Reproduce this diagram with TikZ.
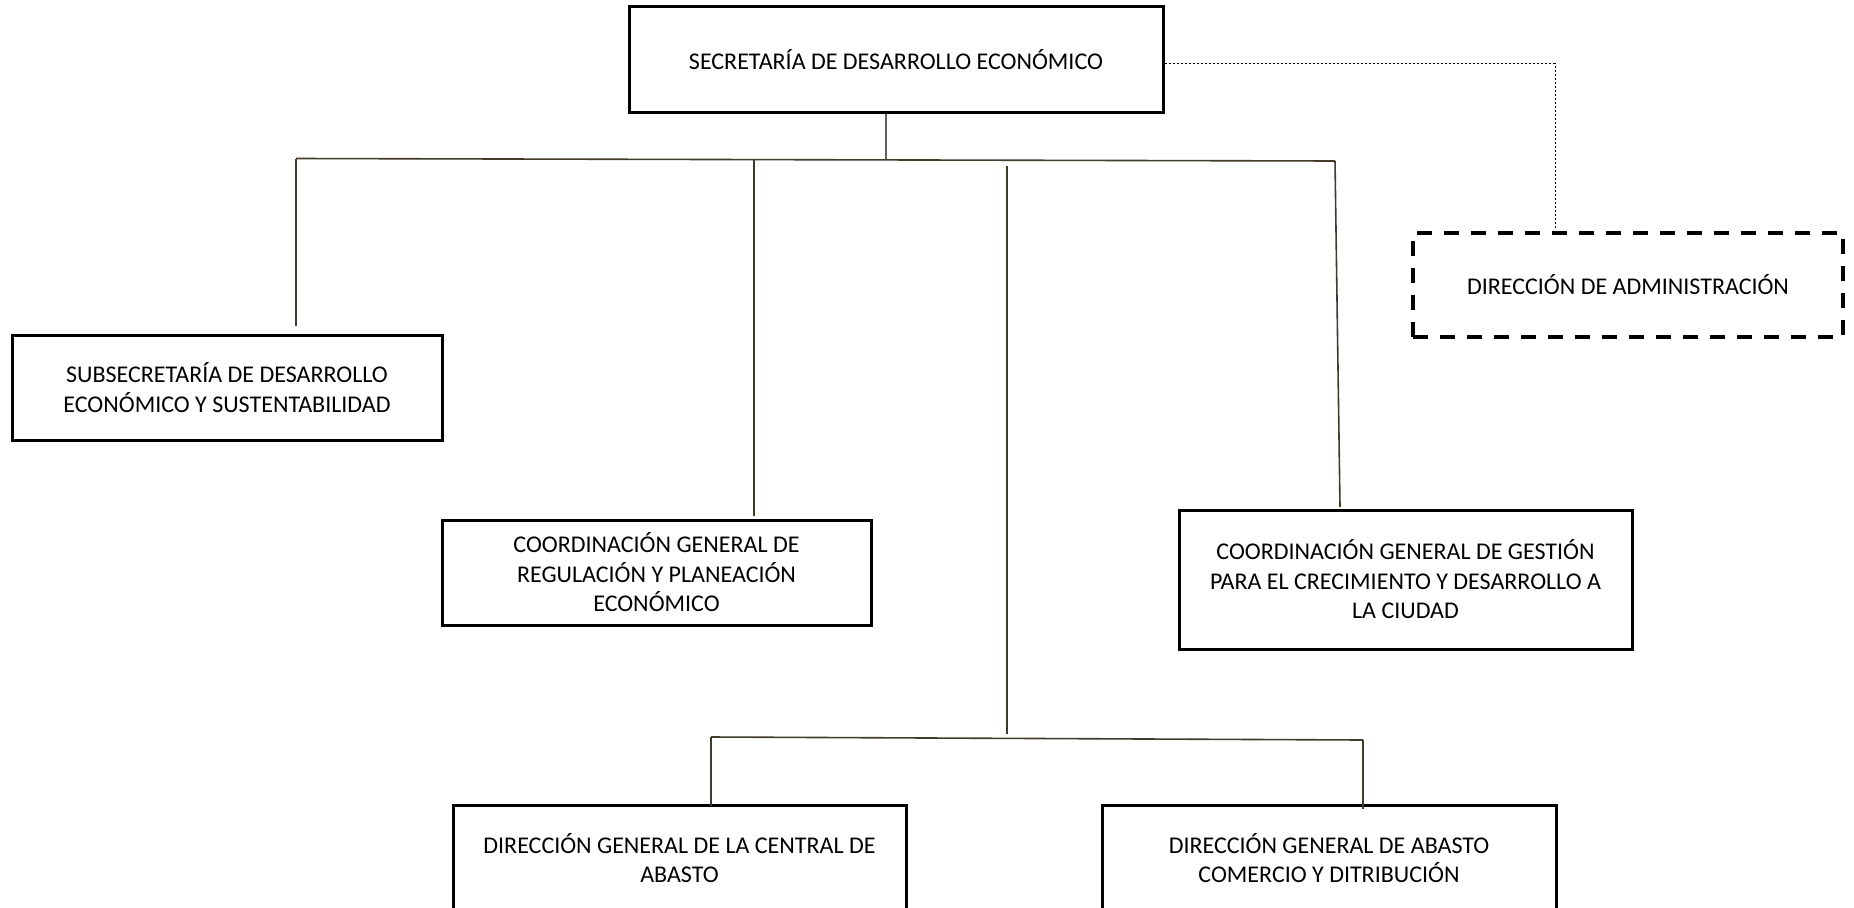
\documentclass[tikz,border=0pt]{standalone}
\usepackage{fontspec}
\setmainfont{Carlito}
\definecolor{linkcol}{RGB}{66,58,42}
\definecolor{stemcol}{RGB}{95,95,95}
\tikzset{
  unit/.style={draw=black, line width=3pt, rectangle, align=center,
    font=\fontsize{24}{29.5}\selectfont, inner sep=0pt},
  staffunit/.style={unit, line width=3.5pt, dash pattern=on 15pt off 12pt},
  link/.style={draw=linkcol, line width=1.6pt},
  stem/.style={draw=stemcol, line width=1.2pt},
  advisory/.style={draw=black, line width=1pt, dash pattern=on 2.5pt off 1.5pt}
}
\begin{document}
\begin{tikzpicture}[x=1pt,y=-1pt]
\useasboundingbox (0,0) rectangle (1854,907);

% units
\node[unit, minimum width=534pt, minimum height=105pt] (sec) at (896,59.5)
  {SECRETARÍA DE DESARROLLO ECONÓMICO};
\node[staffunit, minimum width=430pt, minimum height=104pt] (adm) at (1628,285)
  {DIRECCIÓN DE ADMINISTRACIÓN};
\node[unit, minimum width=430pt, minimum height=105pt] (sub) at (227,387.5)
  {SUBSECRETARÍA DE DESARROLLO\\ECONÓMICO Y SUSTENTABILIDAD};
\node[unit, minimum width=429pt, minimum height=105pt] (reg) at (656.5,572.5)
  {COORDINACIÓN GENERAL DE\\REGULACIÓN Y PLANEACIÓN\\ECONÓMICO};
\node[unit, minimum width=453pt, minimum height=139pt] (ges) at (1405.5,579.5)
  {COORDINACIÓN GENERAL DE GESTIÓN\\PARA EL CRECIMIENTO Y DESARROLLO A\\LA CIUDAD};
\node[unit, minimum width=453pt, minimum height=106pt] (cen) at (679.5,858)
  {DIRECCIÓN GENERAL DE LA CENTRAL DE\\ABASTO};
\node[unit, minimum width=454pt, minimum height=106pt] (aba) at (1329,858)
  {DIRECCIÓN GENERAL DE ABASTO\\COMERCIO Y DITRIBUCIÓN};

% junction points of the main bus
\coordinate (busL) at (296,158.5);
\coordinate (busM) at (886,160);
\coordinate (busR) at (1335,161);
\coordinate (busReg) at (754,160);
\coordinate (subEnd) at (296,326);
\coordinate (regEnd) at (754,516);
\coordinate (gesEnd) at (1340,507);
\coordinate (midTop) at (1007,166);
\coordinate (midEnd) at (1007,734);
% junction points of the lower bus
\coordinate (lowL) at (711,737);
\coordinate (lowR) at (1363,740);
\coordinate (cenEnd) at (711,806);
\coordinate (abaEnd) at (1363,809);
\coordinate (admTurn) at (1555,64);
\coordinate (admEnd) at (1555,228);

% connectors
\draw[stem] (sec.south -| busM) -- (busM);
\draw[link] (busL) -- (busR);
\draw[link] (busL) -- (subEnd);
\draw[link] (busReg) -- (regEnd);
\draw[link] (busR) -- (gesEnd);
\draw[link] (midTop) -- (midEnd);
\draw[link] (lowL) -- (lowR);
\draw[link] (lowL) -- (cenEnd);
\draw[link] (lowR) -- (abaEnd);
\draw[advisory] (sec.east |- admTurn) -- (admTurn) -- (admEnd);
\end{tikzpicture}
\end{document}
